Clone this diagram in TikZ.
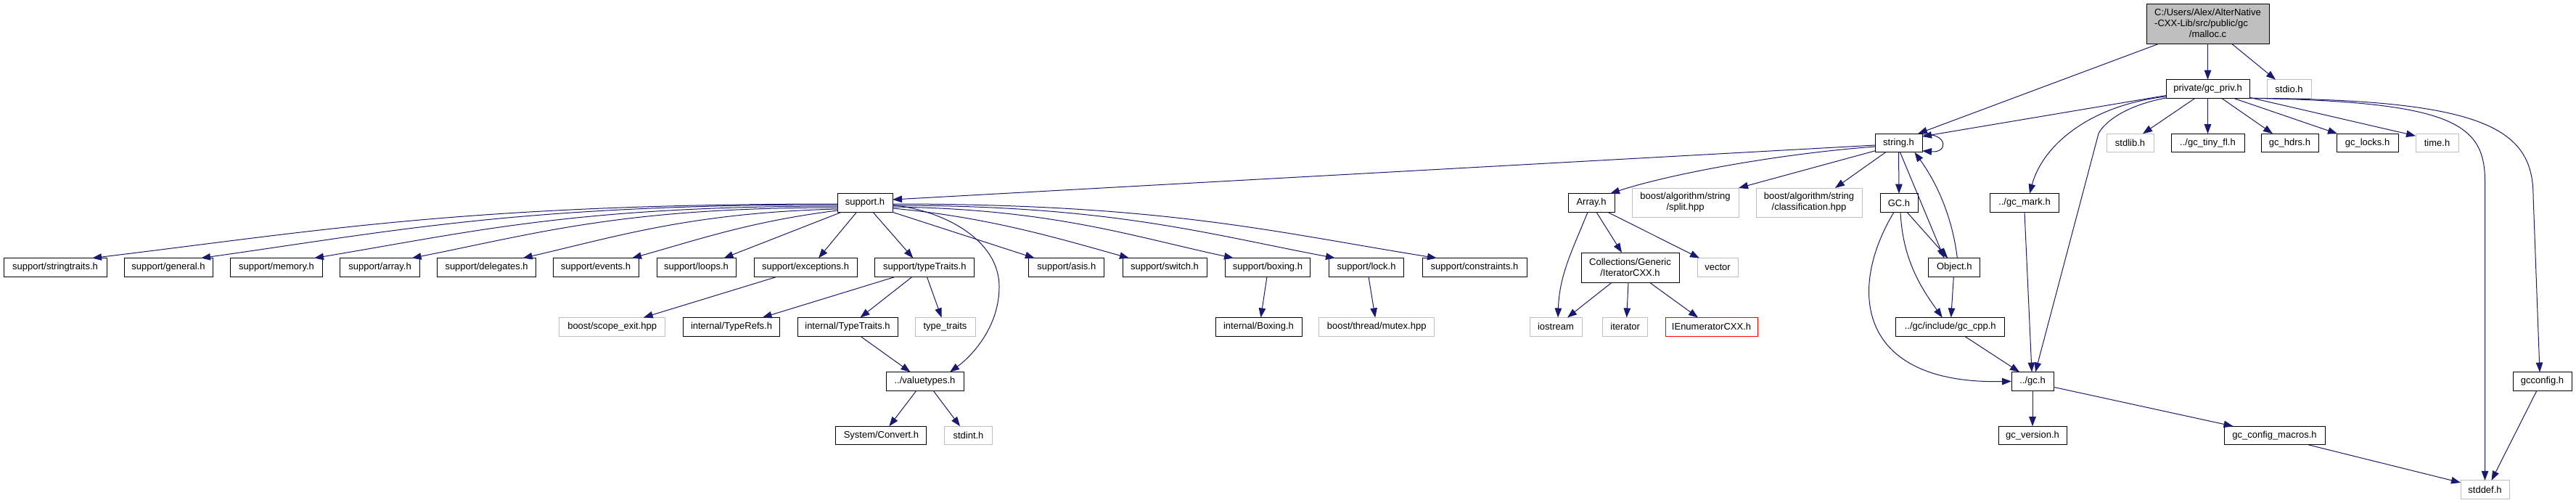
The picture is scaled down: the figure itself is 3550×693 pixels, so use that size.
\documentclass[tikz,border=0pt]{standalone}
\usepackage{fontspec}
\setmainfont{Liberation Sans}
\usetikzlibrary{arrows.meta}
\definecolor{edgec}{RGB}{25,25,112}
\definecolor{grayb}{RGB}{191,191,191}
\newcommand\hfont{\fontsize{13}{15}\selectfont}
\begin{document}
\begin{tikzpicture}[x=1pt,y=-1pt,
  box/.style={rectangle, inner sep=0pt, outer sep=0pt, font=\hfont, line width=1pt, fill=white, align=center, minimum height=25.6pt},
  doc/.style={box, draw=black},
  ext/.style={box, draw=grayb},
  trunc/.style={box, draw=red},
  root/.style={box, draw=black, fill=grayb},
  link/.style={draw=edgec, line width=1pt, -{Triangle[length=13pt,width=9.5pt]}},
  ]
\fill[white] (0,0) rectangle (3550,693);
\useasboundingbox (0,0) rectangle (3550,693);

% row 0
\node[root, minimum width=169pt, minimum height=55pt] (root) at (3042.5,33.2)
  {\begin{tabular}{@{}l@{}}C:/Users/Alex/AlterNative\\-CXX-Lib/src/public/gc\\\multicolumn{1}{@{}c@{}}{/malloc.c}\end{tabular}};
% row 1
\node[doc, minimum width=115pt] (gcpriv) at (3042.5,122.5) {private/gc\_priv.h};
\node[ext, minimum width=61pt] (stdio) at (3154.5,122.5) {stdio.h};
% row 2
\node[doc, minimum width=65pt] (stringh) at (2616.5,197) {string.h};
\node[ext, minimum width=65pt] (stdlib) at (2935.5,197) {stdlib.h};
\node[doc, minimum width=101pt] (tinyfl) at (3042.5,197) {../gc\_tiny\_fl.h};
\node[doc, minimum width=79pt] (hdrs) at (3155.5,197) {gc\_hdrs.h};
\node[doc, minimum width=85pt] (locks) at (3262.5,197) {gc\_locks.h};
\node[ext, minimum width=59pt] (timeh) at (3358.5,197) {time.h};
% row 3
\node[doc, minimum width=76pt] (support) at (1192,279.5) {support.h};
\node[doc, minimum width=64pt] (arrayh) at (2193,279.5) {Array.h};
\node[ext, minimum width=147pt, minimum height=40pt] (split) at (2322.5,279) {boost/algorithm/string\\/split.hpp};
\node[ext, minimum width=146pt, minimum height=40pt] (classif) at (2493,279) {boost/algorithm/string\\/classification.hpp};
\node[doc, minimum width=52pt] (gch) at (2617,279.5) {GC.h};
\node[doc, minimum width=95pt] (gcmark) at (2790,279.5) {../gc\_mark.h};
% row 4
\node[doc, minimum width=142pt] (stringtraits) at (76,368.4) {support/stringtraits.h};
\node[doc, minimum width=122pt] (general) at (232,368.4) {support/general.h};
\node[doc, minimum width=127pt] (memory) at (381,368.4) {support/memory.h};
\node[doc, minimum width=110pt] (sarray) at (523.6,368.4) {support/array.h};
\node[doc, minimum width=136pt] (delegates) at (670.6,368.4) {support/delegates.h};
\node[doc, minimum width=118pt] (events) at (821,368.4) {support/events.h};
\node[doc, minimum width=109pt] (loops) at (959.5,368.4) {support/loops.h};
\node[doc, minimum width=142pt] (exceptions) at (1110,368.4) {support/exceptions.h};
\node[doc, minimum width=137pt] (typetraits) at (1274.3,368.4) {support/typeTraits.h};
\node[doc, minimum width=104pt] (asis) at (1469.8,368.4) {support/asis.h};
\node[doc, minimum width=116pt] (switchh) at (1605,368.4) {support/switch.h};
\node[doc, minimum width=117.5pt] (boxing) at (1747,368.4) {support/boxing.h};
\node[doc, minimum width=103pt] (lockh) at (1883,368.4) {support/lock.h};
\node[doc, minimum width=144pt] (constraints) at (2032,368.4) {support/constraints.h};
\node[doc, minimum width=135pt, minimum height=41pt] (itercxx) at (2246.5,368.5) {Collections/Generic\\/IteratorCXX.h};
\node[ext, minimum width=56pt] (vector) at (2367,368.4) {vector};
\node[doc, minimum width=71pt] (object) at (2693.3,368.4) {Object.h};
% row 5
\node[ext, minimum width=146.5pt] (scopeexit) at (843.7,450.3) {boost/scope\_exit.hpp};
\node[doc, minimum width=133pt] (typerefs) at (1008,450.3) {internal/TypeRefs.h};
\node[doc, minimum width=138pt] (itypetraits) at (1168,450.3) {internal/TypeTraits.h};
\node[ext, minimum width=83pt] (typetraitsstd) at (1302.5,450.3) {type\_traits};
\node[doc, minimum width=119pt] (iboxing) at (1734.5,450.3) {internal/Boxing.h};
\node[ext, minimum width=159pt] (mutex) at (1897.2,450.3) {boost/thread/mutex.hpp};
\node[ext, minimum width=72pt] (iostream) at (2144,450.3) {iostream};
\node[ext, minimum width=62.5pt] (iterator) at (2239.7,450.3) {iterator};
\node[trunc, minimum width=127pt] (ienum) at (2358.5,450.3) {IEnumeratorCXX.h};
\node[doc, minimum width=150.5pt] (gccpp) at (2687.7,450.3) {../gc/include/gc\_cpp.h};
% row 6
\node[doc, minimum width=107pt] (valuetypes) at (1274.5,525.3) {../valuetypes.h};
\node[doc, minimum width=58pt] (gc) at (2801,525.3) {../gc.h};
\node[doc, minimum width=81pt] (gcconfig) at (3503.5,525.3) {gcconfig.h};
% row 7
\node[doc, minimum width=125pt] (convert) at (1214.4,600) {System/Convert.h};
\node[ext, minimum width=66pt] (stdint) at (1334.5,600) {stdint.h};
\node[doc, minimum width=94pt] (gcversion) at (2801,600) {gc\_version.h};
\node[doc, minimum width=139pt] (macros) at (3134.5,600) {gc\_config\_macros.h};
% row 8
\node[ext, minimum width=67pt] (stddef) at (3424.5,674.7) {stddef.h};

% edges from root
\draw[link] (root.south) -- (gcpriv.north);
\draw[link] ([xshift=16pt]root.south west) -- ([xshift=-6pt]stringh.north east);
\draw[link] ([xshift=33.5pt]root.south) -- ([xshift=-18.5pt]stdio.north);
% gc_priv
\draw[link] ([yshift=-9pt]gcpriv.west) -- ([yshift=9pt]stringh.east);
\draw[link] ([xshift=-17.5pt]gcpriv.south) -- ([xshift=17.5pt]stdlib.north);
\draw[link] (gcpriv.south) -- (tinyfl.north);
\draw[link] ([xshift=19pt]gcpriv.south) -- ([xshift=-23.5pt]hdrs.north);
\draw[link] ([xshift=35.5pt]gcpriv.south) -- ([xshift=-41.5pt]locks.north);
\draw[link] ([yshift=1pt]gcpriv.south east) -- ([yshift=-3pt]timeh.north west);
\draw[link] ([yshift=-10.5pt]gcpriv.west) .. controls (2880,145) and (2815,200) .. ([xshift=7pt]gcmark.north);
\draw[link] ([yshift=-12.5pt]gcpriv.west) .. controls (2930,145) and (2900,168) .. (2892,184) -- ([xshift=4pt]gc.north);
\draw[link] (gcpriv.south east) .. controls (3380,140) and (3424.5,170) .. (3424.5,250) -- (stddef.north);
\draw[link] (gcpriv.south east) .. controls (3420,137) and (3491,175) .. (3491,270) -- ([xshift=-3.5pt]gcconfig.north);
% string.h
\draw[link] ([yshift=-1pt]stringh.north east) .. controls (2685,183) and (2685,211) .. ([yshift=2pt]stringh.south east);
\draw[link] ([yshift=-3pt]stringh.west) -- ([yshift=4.5pt]support.east);
\draw[link] ([yshift=-5pt]stringh.west) .. controls (2450,212) and (2300,240) .. ([xshift=-6pt]arrayh.north east);
\draw[link] ([yshift=2pt]stringh.south west) -- (split.north east);
\draw[link] ([xshift=-18pt]stringh.south) -- ([xshift=36pt]classif.north);
\draw[link] (stringh.south) -- (gch.north);
\draw[link] ([xshift=2pt]stringh.south) -- ([xshift=-14pt]object.north);
\draw[link] ([xshift=4pt]object.north) .. controls (2692,310) and (2675,260) .. ([xshift=22pt]stringh.south);
% GC.h, Object.h, gc
\draw[link] ([xshift=11pt]gch.south) -- ([xshift=-9pt]object.north);
\draw[link] ([xshift=2pt]gch.south) .. controls (2622,360) and (2650,400) .. ([xshift=-11pt]gccpp.north);
\draw[link] ([xshift=-7pt]gch.south) .. controls (2545,400) and (2560,530) .. (gc.west);
\draw[link] ([xshift=-1pt]object.south) -- ([xshift=1pt]gccpp.north);
\draw[link] ([xshift=19.5pt]gccpp.south) -- ([xshift=-18pt]gc.north);
\draw[link] (gcmark.south) -- ([xshift=-1pt]gc.north);
\draw[link] (gc.south) -- (gcversion.north);
\draw[link] ([yshift=-8pt]gc.east) -- ([xshift=-57pt]macros.north);
\draw[link] ([xshift=46.5pt]macros.south) -- ([yshift=-3pt]stddef.north west);
\draw[link] ([xshift=-7.5pt]gcconfig.south) -- ([xshift=9pt]stddef.north);
% support.h
\draw[link] ([yshift=-1.5pt]support.west) .. controls +(-513,0) and +(308,-37) .. ([xshift=51pt]stringtraits.north);
\draw[link] ([yshift=-2.5pt]support.west) .. controls +(-438,0) and +(263,-37) .. ([xshift=45pt]general.north);
\draw[link] ([yshift=-4.5pt]support.west) .. controls +(-360,0) and +(216,-36) .. ([xshift=52pt]memory.north);
\draw[link] ([yshift=-6.5pt]support.west) .. controls +(-293,0) and +(176,-35) .. ([xshift=44pt]sarray.north);
\draw[link] ([yshift=-8.5pt]support.west) .. controls +(-200,5) and +(130,-30) .. ([xshift=50pt]delegates.north);
\draw[link] ([yshift=-10.5pt]support.west) .. controls +(-120,15) and +(90,-25) .. ([xshift=50pt]events.north);
\draw[link] ([xshift=5.5pt]support.south west) -- ([xshift=38pt]loops.north);
\draw[link] ([xshift=-11.5pt]support.south) -- ([xshift=18pt]exceptions.north);
\draw[link] ([xshift=11pt]support.south) -- ([xshift=-16pt]typetraits.north);
\draw[link] (support.south east) -- ([xshift=-44pt]asis.north);
\draw[link] ([yshift=-7.5pt]support.east) .. controls +(130,12) and +(-100,-28) .. ([xshift=-49pt]switchh.north);
\draw[link] ([yshift=-5.5pt]support.east) .. controls +(220,3) and +(-140,-30) .. ([xshift=-47pt]boxing.north);
\draw[link] ([yshift=-3.5pt]support.east) .. controls +(300,0) and +(-180,-34) .. ([xshift=-43pt]lockh.north);
\draw[link] ([yshift=-1.5pt]support.east) .. controls +(375,0) and +(-225,-36) .. ([xshift=-52pt]constraints.north);
\draw[link] ([yshift=-3pt]support.east) .. controls (1300,290) and (1377,330) .. (1377,395) .. controls (1377,450) and (1340,490) .. ([xshift=34.5pt]valuetypes.north);
% second level support
\draw[link] ([xshift=-39pt]exceptions.south) -- ([xshift=43pt]scopeexit.north);
\draw[link] ([xshift=-40pt]typetraits.south) -- ([xshift=42.6pt]typerefs.north);
\draw[link] ([xshift=-17pt]typetraits.south) -- ([xshift=17.5pt]itypetraits.north);
\draw[link] ([xshift=3pt]typetraits.south) -- ([xshift=-5pt]typetraitsstd.north);
\draw[link] ([xshift=17.5pt]itypetraits.south) -- ([xshift=-20pt]valuetypes.north);
\draw[link] ([xshift=-11.5pt]valuetypes.south) -- ([xshift=11pt]convert.north);
\draw[link] ([xshift=11.5pt]valuetypes.south) -- ([xshift=-11.5pt]stdint.north);
\draw[link] ([xshift=-1pt]boxing.south) -- ([xshift=3pt]iboxing.north);
\draw[link] ([xshift=3pt]lockh.south) -- ([xshift=-2pt]mutex.north);
% Array.h
\draw[link] ([xshift=-5pt]arrayh.south) .. controls +(-20,50) and +(2,-60) .. ([xshift=3pt]iostream.north);
\draw[link] ([xshift=7pt]arrayh.south) -- ([xshift=-11.5pt]itercxx.north);
\draw[link] ([xshift=22.5pt]arrayh.south) -- ([xshift=-25pt]vector.north);
\draw[link] ([xshift=-25pt]itercxx.south) -- ([xshift=16pt]iostream.north);
\draw[link] ([xshift=-2.5pt]itercxx.south) -- ([xshift=2pt]iterator.north);
\draw[link] ([xshift=26.5pt]itercxx.south) -- ([xshift=-18.5pt]ienum.north);
\end{tikzpicture}
\end{document}
